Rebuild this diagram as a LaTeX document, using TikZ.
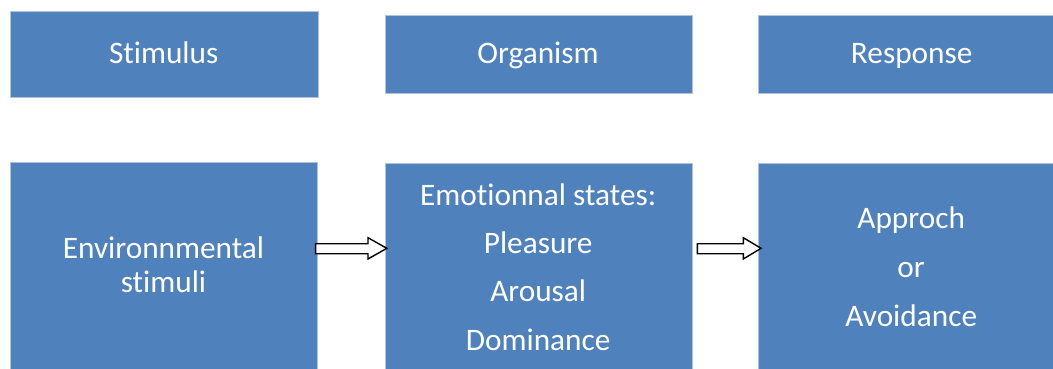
\documentclass[tikz,border=0pt]{standalone}
\usepackage{fontspec}
\setmainfont{Carlito}[Ligatures=NoCommon]
\usetikzlibrary{calc}
\definecolor{boxblue}{HTML}{4F81BD}
\definecolor{boxedge}{HTML}{B0C4E0}
\newcommand{\nolig}{\kern0pt }
\tikzset{
  box/.style={fill=boxblue, draw=boxedge, line width=0.6pt, inner sep=0pt, anchor=north west},
  txt/.style={text=white, anchor=base, inner sep=0pt, font=\fontsize{31.3}{36}\selectfont},
  blockarrow/.style={draw=black, fill=white, line width=1.4pt, line join=miter}
}
\begin{document}
\begin{tikzpicture}[x=1pt,y=-1pt]
\useasboundingbox (0,0) rectangle (1053,369);
\clip (0,0) rectangle (1053,369);
% top row
\node[box, minimum width=307.5pt, minimum height=85.3pt] (stim) at (10,11.5) {};
\node[box, minimum width=307.2pt, minimum height=78pt] (org) at (384.5,15) {};
\node[box, minimum width=310pt, minimum height=77.8pt] (resp) at (758.3,15) {};
% bottom row
\node[box, minimum width=307.3pt, minimum height=220pt] (env) at (10,161.5) {};
\node[box, minimum width=307.2pt, minimum height=220pt] (emo) at (384.5,163.3) {};
\node[box, minimum width=310pt, minimum height=220pt] (app) at (758.3,163.3) {};
% texts
\node[txt] (t1) at (163.7,63.3) {St\nolig imulus};
\node[txt] (t2) at (538,63.3) {Organism};
\node[txt] (t3) at (911.7,63.3) {Response};
\node[txt] (e1) at (163.5,258.3) {Environnmental};
\node[txt] (e2) at (163.5,292.7) {st\nolig imuli};
\node[txt] (o1) at (538.2,205) {Emot\nolig ionnal states:};
\node[txt] (o2) at (538.2,253.3) {Pleasure};
\node[txt] (o3) at (538.2,301.7) {Arousal};
\node[txt] (o4) at (538.2,350) {Dominance};
\node[txt] (a1) at (911.2,228.3) {Approch};
\node[txt] (a2) at (911.2,277.3) {or};
\node[txt] (a3) at (911.2,326.7) {Avoidance};
% block arrows
\draw[blockarrow] let \p1=(env.east), \p2=(emo.west) in
  (\x1-2.3pt,-243.7pt) -- (\x2-16.5pt,-243.7pt) -- (\x2-16.5pt,-237.7pt)
  -- (\x2+2.3pt,-248.3pt) -- (\x2-16.5pt,-259pt) -- (\x2-16.5pt,-253.7pt)
  -- (\x1-2.3pt,-253.7pt) -- cycle;
\draw[blockarrow] let \p1=(emo.east), \p2=(app.west) in
  (\x1+5pt,-243.7pt) -- (\x2-15pt,-243.7pt) -- (\x2-15pt,-237.7pt)
  -- (\x2+2.7pt,-248.3pt) -- (\x2-15pt,-259pt) -- (\x2-15pt,-253.7pt)
  -- (\x1+5pt,-253.7pt) -- cycle;
\end{tikzpicture}
\end{document}
